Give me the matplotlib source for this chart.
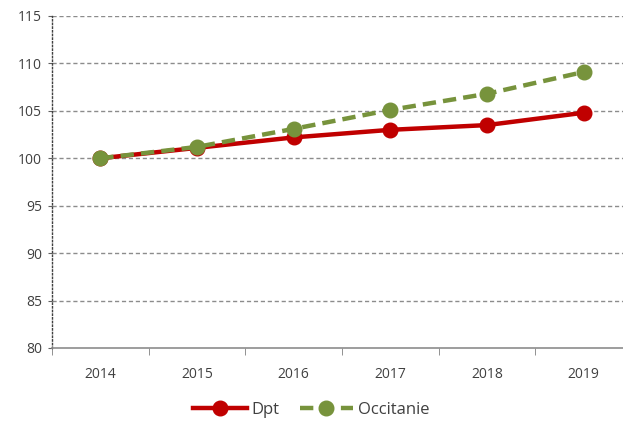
import matplotlib.pyplot as plt
import numpy as np

plt.rcParams['font.family'] = ['Open Sans', 'DejaVu Sans']

years = ['2014', '2015', '2016', '2017', '2018', '2019']
dpt = [100, 101.1, 102.2, 103.0, 103.5, 104.8]
occitanie = [100, 101.2, 103.1, 105.1, 106.8, 109.1]
yticks = [80, 85, 90, 95, 100, 105, 110, 115]

fig = plt.figure(figsize=(6.23, 4.23), dpi=100)
ax = fig.add_axes([52 / 623, (423 - 348) / 423, 580 / 623, 332 / 423])

x = np.arange(len(years))
ax.plot(x, dpt, color='#c00000', lw=3.2, marker='o', ms=10.5, label='Dpt', zorder=3)
ax.plot(x, occitanie, color='#77933c', lw=3.2, ls=(0, (3, 1.6)), marker='o', ms=10.5,
        label='Occitanie', zorder=4)

ax.set_xlim(-0.5, len(years) - 0.5)
ax.set_ylim(80, 115)
ax.set_yticks(yticks)
ax.set_xticks(x)
ax.set_xticklabels(years)
ax.set_xticks(np.arange(-0.5, len(years), 1), minor=True)
ax.tick_params(axis='x', which='major', length=0, pad=14, labelsize=10, labelcolor='#404040')
ax.tick_params(axis='x', which='minor', length=5, color='#808080', direction='out')
ax.tick_params(axis='y', length=3, color='#606060', labelsize=10, labelcolor='#404040', pad=4)

for v in yticks[1:]:
    ax.axhline(v, color='#8c8c8c', lw=1, ls=(0, (3, 2)), zorder=1)

for s in ['top', 'right']:
    ax.spines[s].set_visible(False)
ax.spines['left'].set_linestyle(':')
ax.spines['left'].set_color('#404040')
ax.spines['left'].set_linewidth(1)
ax.spines['bottom'].set_color('#8c8c8c')
ax.spines['bottom'].set_linewidth(1.2)

fig.legend(loc='center', bbox_to_anchor=(0.5, 13 / 423), ncol=2, frameon=False,
           fontsize=12, handlelength=3.2, columnspacing=1.2, handletextpad=0.3,
           labelcolor='#404040')

fig.savefig('out.png', dpi=100)
